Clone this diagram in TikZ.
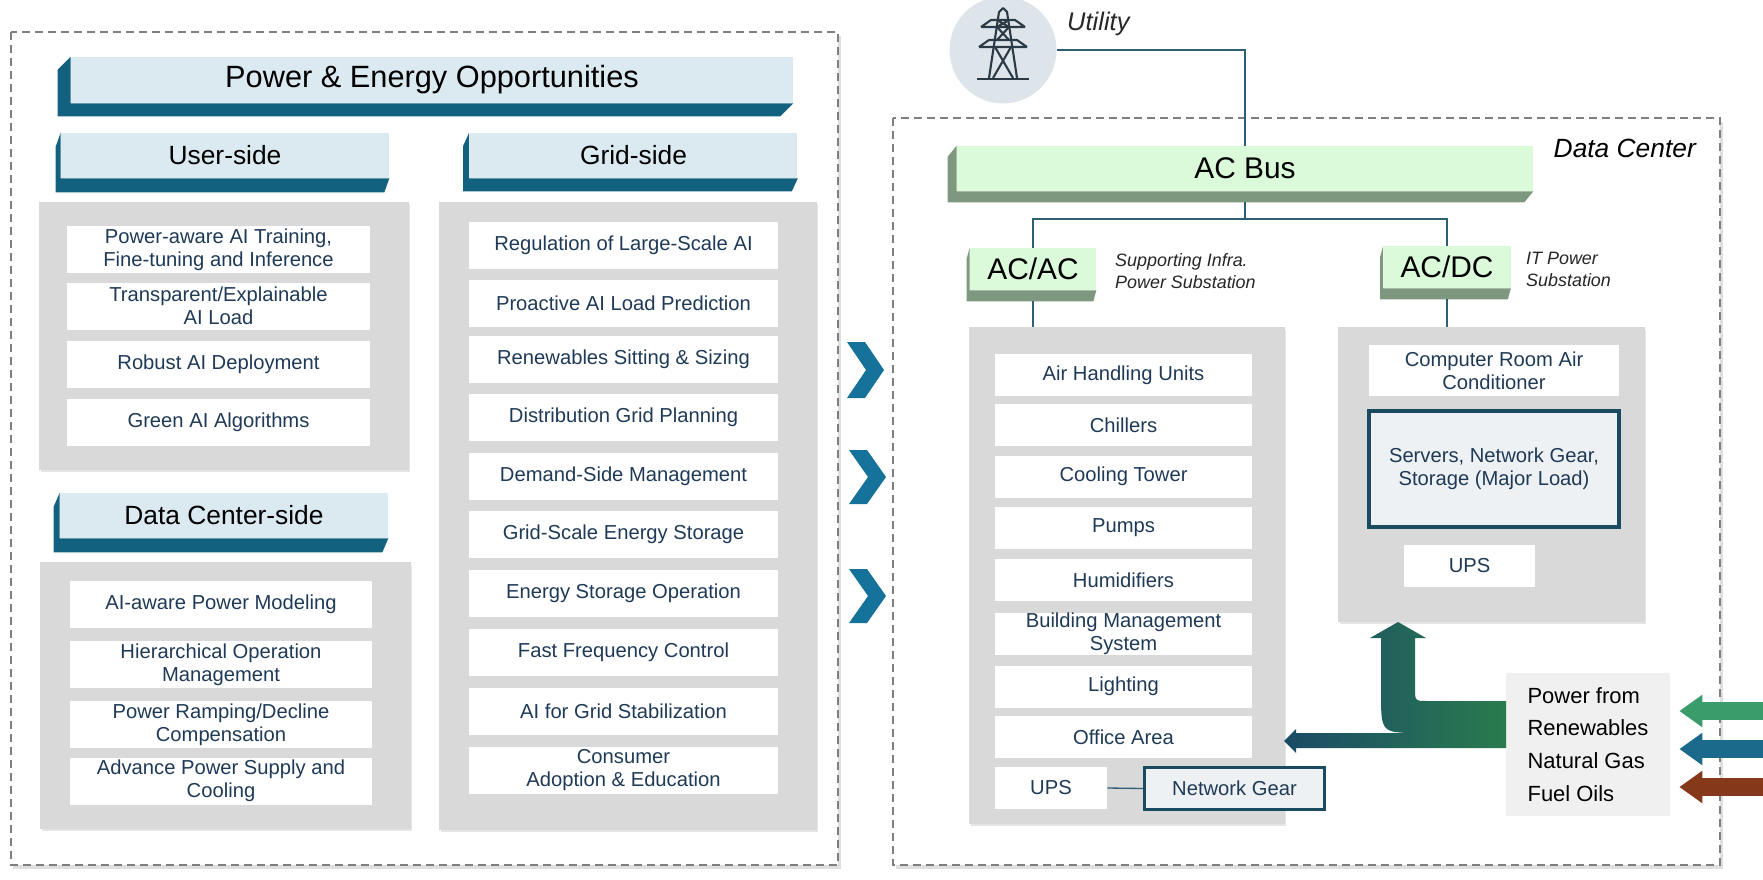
\documentclass[tikz,border=0pt]{standalone}
\usepackage{fontspec}
\setmainfont{Liberation Sans}
\usepackage{tikz}
\usetikzlibrary{arrows.meta}
\usetikzlibrary{shadows}
\usetikzlibrary{calc}

\definecolor{barface}{HTML}{DBE9F0}
\definecolor{barside}{HTML}{12617F}
\definecolor{busface}{HTML}{DAFADA}
\definecolor{busside}{HTML}{7E987F}
\definecolor{panelgray}{HTML}{D9D9D9}
\definecolor{itemtext}{HTML}{1F3A56}
\definecolor{wirecol}{HTML}{2E5F75}
\definecolor{chevcol}{HTML}{15739B}
\definecolor{loadedge}{HTML}{1A4A5F}
\definecolor{loadfill}{HTML}{EEF1F3}
\definecolor{utilfill}{HTML}{DDE5EA}
\definecolor{towercol}{HTML}{2B3A45}
\definecolor{srcfill}{HTML}{F0F0F0}
\definecolor{renewcol}{HTML}{3A9B6B}
\definecolor{gascol}{HTML}{1B6A8C}
\definecolor{oilcol}{HTML}{85391A}
\definecolor{flowleft}{HTML}{1A4B66}
\definecolor{flowright}{HTML}{2A7B4E}
\definecolor{framecol}{HTML}{7F7F7F}

\tikzset{
  groupframe/.style={draw=framecol, dash pattern=on 0.16cm off 0.1cm, line width=0.7pt, fill=white,
    drop shadow={opacity=0.25, shadow xshift=0.05cm, shadow yshift=-0.08cm}},
  panel/.style={fill=panelgray, inner sep=0pt,
    drop shadow={opacity=0.2, shadow xshift=0.03cm, shadow yshift=-0.05cm}},
  titlebar/.style={fill=barface, inner sep=0pt, minimum width=14.44cm, minimum height=0.92cm,
    font=\fontsize{17.5}{20}\selectfont},
  header/.style={fill=barface, inner sep=0pt, minimum width=6.56cm, minimum height=0.9cm,
    font=\fontsize{15}{18}\selectfont},
  busbar/.style={fill=busface, inner sep=0pt, minimum height=0.84cm, font=\fontsize{17}{20}\selectfont},
  useritem/.style={fill=white, text=itemtext, align=center, inner sep=0pt,
    minimum width=6.06cm, minimum height=0.94cm, font=\fontsize{11.5}{13}\selectfont},
  griditem/.style={useritem, minimum width=6.18cm},
  loaditem/.style={useritem, minimum width=5.14cm, minimum height=0.84cm},
  majorload/.style={useritem, fill=loadfill, draw=loadedge},
  sidenote/.style={anchor=west, align=left, text=black!85, font=\fontsize{10.2}{12.5}\selectfont\itshape},
  wire/.style={draw=wirecol, line width=0.75pt},
  tower/.style={draw=towercol, line width=1.2pt, line join=round},
  feed/.style={line width=0.36cm, -{Triangle[length=0.46cm, width=0.62cm]}},
}

% left and bottom faces of a raised bar
\newcommand{\slabside}[4]{\fill[#4] (#1.north west) -- ++(#2,#3) -- ([shift={(#2,#3)}]#1.south west)
  -- ([shift={(#2,#3)}]#1.south east) -- (#1.south east) -- (#1.south west) -- cycle;}

\begin{document}
\begin{tikzpicture}[x=0.02cm, y=-0.02cm]
\useasboundingbox (0,0) rectangle (1763,879);

% ---- opportunities ----
\draw[groupframe] (11,32) rectangle (838,865);
\node[titlebar] (opps) at (432,80) {Power \& Energy Opportunities};
\slabside{opps}{-13}{13}{barside}

\node[header] (userhd) at (225,155.5) {User-side};
\slabside{userhd}{-5}{14}{barside}
\node[header] (gridhd) at (633.5,155.5) {Grid-side};
\slabside{gridhd}{-6}{13}{barside}
\node[header] (dchd) at (224,515.5) {Data Center-side};
\slabside{dchd}{-6}{14}{barside}

\node[panel, minimum width=7.4cm, minimum height=5.36cm] (userpanel) at (224,336) {};
\node[useritem] (u1) at (218.5,249.5) {Power-aware AI Training,\\Fine-tuning and Inference};
\node[useritem] (u2) at (218.5,306) {Transparent/Explainable\\AI Load};
\node[useritem] (u3) at (218.5,364.5) {Robust AI Deployment};
\node[useritem] (u4) at (218.5,422.5) {Green AI Algorithms};

\node[panel, minimum width=7.42cm, minimum height=5.34cm] (dcsidepanel) at (225.5,695.5) {};
\node[useritem] (d1) at (221,604) {AI-aware Power Modeling};
\node[useritem] (d2) at (221,664.5) {Hierarchical Operation\\Management};
\node[useritem] (d3) at (221,724.5) {Power Ramping/Decline\\Compensation};
\node[useritem] (d4) at (221,781) {Advance Power Supply and\\Cooling};

\node[panel, minimum width=7.56cm, minimum height=12.56cm] (gridpanel) at (628,516) {};
\node[griditem] (g1) at (623.5,245.5) {Regulation of Large-Scale AI};
\node[griditem] (g2) at (623.5,303) {Proactive AI Load Prediction};
\node[griditem] (g3) at (623.5,359.5) {Renewables Sitting \& Sizing};
\node[griditem] (g4) at (623.5,417) {Distribution Grid Planning};
\node[griditem] (g5) at (623.5,476) {Demand-Side Management};
\node[griditem] (g6) at (623.5,534) {Grid-Scale Energy Storage};
\node[griditem] (g7) at (623.5,593) {Energy Storage Operation};
\node[griditem] (g8) at (623.5,652) {Fast Frequency Control};
\node[griditem] (g9) at (623.5,711) {AI for Grid Stabilization};
\node[griditem] (g10) at (623.5,770) {Consumer\\Adoption \& Education};

% chevrons
\fill[chevcol] (847,342) -- ++(18,0) -- ++(19,28) -- ++(-19,28) -- ++(-18,0) -- ++(19,-28) -- cycle;
\fill[chevcol] (849,450) -- ++(18,0) -- ++(19,27) -- ++(-19,27) -- ++(-18,0) -- ++(19,-27) -- cycle;
\fill[chevcol] (849,569) -- ++(18,0) -- ++(19,27) -- ++(-19,27) -- ++(-18,0) -- ++(19,-27) -- cycle;

% ---- data center ----
\draw[groupframe] (893,118) rectangle (1720,865);
\node[anchor=east, font=\fontsize{15}{18}\selectfont\itshape] (dclbl) at (1702,148) {Data Center};

\node[circle, fill=utilfill, minimum size=2.14cm, inner sep=0pt] (util) at (1003,50) {};
\draw[tower] (977,79) -- (1029,79);
\draw[tower] (989,78) -- (999,12) -- (1003,8) -- (1007,12) -- (1017,78);
\draw[tower] (981,27) -- (1025,27) (981,27) -- (991,20) -- (1015,20) -- (1025,27);
\draw[tower] (979,47) -- (1027,47) (979,47) -- (989,40) -- (1017,40) -- (1027,47);
\draw[tower] (997,20) -- (1009,27) (1009,20) -- (997,27) (997,27) -- (1009,40) (1009,27) -- (997,40);
\draw[tower] (995,47) -- (1013,78) (1011,47) -- (993,78);
\node[sidenote, font=\fontsize{14.5}{17}\selectfont\itshape] (utillbl) at (1061,24) {Utility};

\node[busbar, minimum width=11.52cm, minimum height=0.9cm] (acbus) at (1245,168.5) {AC Bus};
\slabside{acbus}{-9}{11}{busside}
\node[busbar, minimum width=2.52cm] (acac) at (1033,269) {AC/AC};
\slabside{acac}{-3}{11}{busside}
\node[busbar, minimum width=2.54cm] (acdc) at (1447,267) {AC/DC};
\slabside{acdc}{-3}{11}{busside}
\node[sidenote] (acacnote) at (1109,271) {Supporting Infra.\\Power Substation};
\node[sidenote] (acdcnote) at (1520,269) {IT Power\\Substation};

\node[panel, minimum width=6.32cm, minimum height=9.94cm] (acpanel) at (1127,575.5) {};
\node[loaditem] (l1) at (1123.5,375) {Air Handling Units};
\node[loaditem] (l2) at (1123.5,425) {Chillers};
\node[loaditem] (l3) at (1123.5,476.5) {Cooling Tower};
\node[loaditem] (l4) at (1123.5,528) {Pumps};
\node[loaditem] (l5) at (1123.5,580) {Humidifiers};
\node[loaditem] (l6) at (1123.5,634) {Building Management\\System};
\node[loaditem] (l7) at (1123.5,686.5) {Lighting};
\node[loaditem] (l8) at (1123.5,737) {Office Area};
\node[loaditem, minimum width=2.24cm] (upsA) at (1051,788) {UPS};
\node[majorload, line width=1.7pt, minimum width=3.6cm, minimum height=0.84cm] (netgear) at (1234.5,788.5) {Network Gear};

\node[panel, minimum width=6.14cm, minimum height=5.9cm] (dcpanel) at (1491.5,474.5) {};
\node[loaditem, minimum width=5cm, minimum height=1.02cm] (crac) at (1494,370.5) {Computer Room Air\\Conditioner};
\node[majorload, line width=2.2pt, minimum width=5cm, minimum height=2.32cm] (servers) at (1494,469) {Servers, Network Gear,\\Storage (Major Load)};
\node[loaditem, minimum width=2.62cm] (upsB) at (1469.5,566) {UPS};

% wiring
\coordinate (split) at (1245,219);
\draw[wire] (util.east) -| (acbus.north);
\draw[wire] ([yshift=-0.22cm]acbus.south) -- (split);
\draw[wire] (acac.north) |- (split) -| (acdc.north);
\draw[wire] ([yshift=-0.22cm]acac.south) -- (acac.south |- acpanel.north);
\draw[wire] ([yshift=-0.22cm]acdc.south) -- (acdc.south |- dcpanel.north);
\draw[wire] (upsA.east) -- (netgear.west);

% sources
\node[fill=srcfill, align=left, inner sep=0pt, minimum width=3.28cm, minimum height=2.86cm,
  font=\fontsize{12.5}{18.7}\selectfont] (sources) at (1588,744.5) {Power from\\Renewables\\Natural Gas\\Fuel Oils};
\coordinate (renewin) at (1775,711);
\coordinate (gasin) at (1775,749);
\coordinate (oilin) at (1775,787);
\draw[feed, draw=renewcol, fill=renewcol] (renewin) -- ($(sources.east |- renewin)+(9,0)$);
\draw[feed, draw=gascol, fill=gascol] (gasin) -- ($(sources.east |- gasin)+(9,0)$);
\draw[feed, draw=oilcol, fill=oilcol] (oilin) -- ($(sources.east |- oilin)+(9,0)$);

% split flow to both panels
\shade[left color=flowleft, right color=flowright]
  (1506,701) -- (1428,701) .. controls (1415,701) .. (1415,688) -- (1415,638) -- (1426,638)
  -- (1398,622) -- (1370,638) -- (1381,638) -- (1381,693) .. controls (1381,733) .. (1421,733)
  -- (1296,733) -- (1296,729) -- (1284,741) -- (1296,753) -- (1296,748) -- (1506,748) -- cycle;
\end{tikzpicture}
\end{document}
